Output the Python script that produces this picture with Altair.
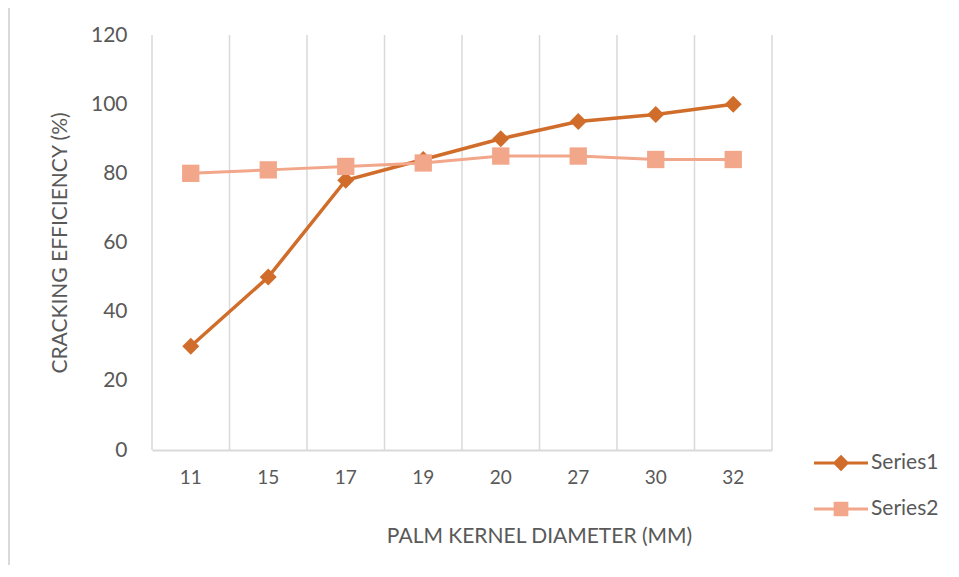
import altair as alt
import pandas as pd

categories = ["11", "15", "17", "19", "20", "27", "30", "32"]
series1 = [30, 50, 78, 84, 90, 95, 97, 100]
series2 = [80, 81, 82, 83, 85, 85, 84, 84]
series_names = ["Series1", "Series2"]
series_colors = ["#D16D2B", "#F2A68A"]
y_ticks = [0, 20, 40, 60, 80, 100, 120]

rows = []
for c, a, b in zip(categories, series1, series2):
    rows.append({"cat": c, "series": "Series1", "value": a})
    rows.append({"cat": c, "series": "Series2", "value": b})
df = pd.DataFrame(rows)

W, H = 620, 415
FONT = "Lato"
TXT = "#595959"
GRID = "#D9D9D9"

xscale = alt.Scale(domain=categories, paddingInner=0, paddingOuter=0)
yscale = alt.Scale(domain=[0, 120])

x_enc = alt.X(
    "cat:N", sort=categories, scale=xscale,
    axis=alt.Axis(title="PALM KERNEL DIAMETER (MM)", labelAngle=0, labelAlign="center",
                  ticks=False, grid=False, domain=True, domainColor=GRID, domainWidth=2,
                  labelFont=FONT, labelFontSize=19, labelColor=TXT, labelPadding=27,
                  titleFont=FONT, titleFontSize=21, titleColor=TXT, titleFontWeight="normal",
                  titleX=387, titleY=86, titleBaseline="middle"),
)
y_enc = alt.Y(
    "value:Q", scale=yscale,
    axis=alt.Axis(title="CRACKING EFFICIENCY (%)", values=y_ticks, grid=False, ticks=False,
                  domain=False, labelFont=FONT, labelFontSize=21, labelColor=TXT,
                  labelPadding=25, titleFont=FONT, titleFontSize=21, titleColor=TXT,
                  titleFontWeight="normal", titleX=-92, titleY=H / 2, titleBaseline="middle",
                  titleAngle=270),
)

base = alt.Chart(df)

grid_df = pd.DataFrame({"cat": categories})
grid_left = alt.Chart(grid_df).mark_rule(color=GRID, strokeWidth=1.5).encode(
    x=alt.X("cat:N", sort=categories, scale=xscale, bandPosition=0),
    y=alt.datum(0, scale=yscale), y2=alt.datum(120),
)
grid_right = alt.Chart(pd.DataFrame({"cat": [categories[-1]]})).mark_rule(
    color=GRID, strokeWidth=1.5).encode(
    x=alt.X("cat:N", sort=categories, scale=xscale, bandPosition=1),
    y=alt.datum(0, scale=yscale), y2=alt.datum(120),
)

layers = [grid_left, grid_right]
shapes = ["diamond", "square"]
sizes = [290, 300]
widths = [3.5, 3]
for name, col, shp, sz, sw in zip(series_names, series_colors, shapes, sizes, widths):
    sub = base.transform_filter(alt.datum.series == name)
    layers.append(sub.mark_line(color=col, strokeWidth=sw).encode(x=x_enc, y=y_enc))
    layers.append(sub.mark_point(filled=True, color=col, opacity=1, shape=shp, size=sz)
                  .encode(x=x_enc, y=y_enc))

legend_paths = [
    "M-1.2,0H1.2M0,-0.27L0.27,0L0,0.27L-0.27,0Z",
    "M-1.2,0H1.2M-0.26,-0.26H0.26V0.26H-0.26Z",
]
legend_layer = base.transform_filter("false").mark_point(filled=True, opacity=1).encode(
    color=alt.Color("series:N", title=None,
                    scale=alt.Scale(domain=series_names, range=series_colors)),
    stroke=alt.Stroke("series:N", title=None,
                      scale=alt.Scale(domain=series_names, range=series_colors)),
    shape=alt.Shape("series:N", title=None,
                    scale=alt.Scale(domain=series_names, range=legend_paths)),
)
layers.append(legend_layer)

frame = alt.Chart(pd.DataFrame({"a": [0]})).mark_rect(
    fill=None, stroke=GRID, strokeWidth=2).encode(
    x=alt.value(-143), x2=alt.value(W + 250), y=alt.value(-28), y2=alt.value(H + 250))

chart = alt.layer(frame, *layers).properties(
    width=W, height=H,
    autosize=alt.AutoSizeParams(type="none"),
    padding={"left": 144, "top": 27, "right": 179, "bottom": 115},
).configure_view(stroke=None).configure_legend(
    orient="none", legendX=665, legendY=404, symbolSize=2025, symbolStrokeWidth=3,
    rowPadding=9, labelOffset=6, labelFont=FONT, labelFontSize=21, labelColor=TXT,
    padding=0,
)

chart.save("out.html", embed_options={"renderer": "svg", "actions": False})
